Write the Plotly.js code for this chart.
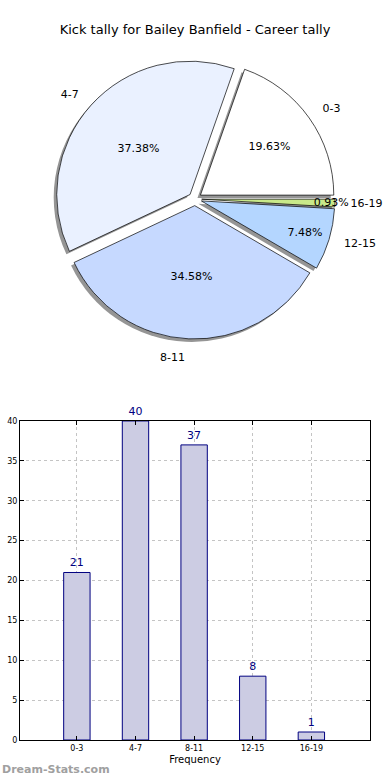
<!DOCTYPE html>
<html><head><meta charset="utf-8">
<script src="https://cdn.plot.ly/plotly-3.0.1.min.js"></script>
<style>html,body{margin:0;padding:0;background:#fff}#chart{width:390px;height:780px}</style>
</head><body><div id="chart"></div>
<script>
var categories = ["0-3", "4-7", "8-11", "12-15", "16-19"];
var counts = [21, 40, 37, 8, 1];
var sliceColors = ["#ffffff", "#eaf1ff", "#c6d9ff", "#b4d6ff", "#c9e98a"];
var yTicks = [0, 5, 10, 15, 20, 25, 30, 35, 40];
var xPos = categories.map(function(c, i){ return i; });

var total = counts.reduce(function(a, b){ return a + b; }, 0);
// first slice starts at 3 o'clock, going counterclockwise
var rot = 90 - 360 * counts[0] / total;
var pull = categories.map(function(){ return 0.05; });
var fnt = {family: "DejaVu Sans", size: 11, color: "#000"};

var labelRing = {
  type: "pie", labels: categories, values: counts, sort: false,
  direction: "counterclockwise", rotation: rot, pull: pull,
  marker: {colors: categories.map(function(){ return "rgba(0,0,0,0)"; }), line: {width: 0}},
  textinfo: "label", textposition: "outside", outsidetextfont: fnt,
  domain: {x: [0, 1], y: [0.5497, 0.9401]},
  showlegend: false, hoverinfo: "skip"
};
var shadow = {
  type: "pie", labels: categories, values: counts, sort: false,
  direction: "counterclockwise", rotation: rot, pull: pull,
  marker: {colors: categories.map(function(){ return "#8a8a8a"; }), line: {width: 0}},
  textinfo: "none",
  domain: {x: [0.0123, 0.9723], y: [0.5616, 0.9206]},
  showlegend: false, hoverinfo: "skip", opacity: 0.9
};
var pie = {
  type: "pie", labels: categories, values: counts, sort: false,
  direction: "counterclockwise", rotation: rot, pull: pull,
  marker: {colors: sliceColors, line: {color: "#000", width: 0.7}},
  texttemplate: "%{percent:.2%}", textposition: "inside",
  insidetextorientation: "horizontal", insidetextfont: fnt,
  domain: {x: [0.02, 0.98], y: [0.5654, 0.9244]},
  showlegend: false
};
var bars = {
  type: "bar", x: xPos, y: counts, width: 0.45,
  marker: {color: "#cccce3", line: {color: "#000080", width: 1}},
  text: counts.map(String), textposition: "outside",
  textfont: {family: "DejaVu Sans", size: 11, color: "#000080"},
  cliponaxis: false, xaxis: "x", yaxis: "y", showlegend: false
};

var layout = {
  width: 390, height: 780,
  margin: {l: 0, r: 0, t: 0, b: 0},
  paper_bgcolor: "#fff", plot_bgcolor: "#fff",
  uniformtext: {mode: "show", minsize: 11},
  title: {text: "Kick tally for Bailey Banfield - Career tally",
          font: {family: "DejaVu Sans", size: 13, color: "#000"},
          x: 0.5, xanchor: "center", y: 0.962, yanchor: "middle"},
  xaxis: {domain: [0.0513, 0.9487], anchor: "y", range: [-0.97, 5],
          tickvals: xPos, ticktext: categories,
          tickfont: {family: "DejaVu Sans", size: 8, color: "#000"},
          showgrid: true, gridcolor: "#c4c4c4", griddash: "dot", gridwidth: 1,
          showline: true, linecolor: "#000", linewidth: 1, mirror: "ticks",
          ticks: "inside", ticklen: 4, tickcolor: "#000", zeroline: false,
          title: {text: "Frequency", font: {family: "DejaVu Sans", size: 10, color: "#000"}, standoff: 4}},
  yaxis: {domain: [0.0513, 0.4603], anchor: "x", range: [0, 40],
          tickvals: yTicks,
          tickfont: {family: "DejaVu Sans", size: 8, color: "#000"},
          showgrid: true, gridcolor: "#c4c4c4", griddash: "dot", gridwidth: 1,
          showline: true, linecolor: "#000", linewidth: 1, mirror: "ticks",
          ticks: "inside", ticklen: 4, tickcolor: "#000", zeroline: false},
  annotations: [{text: "<b>Dream-Stats.com</b>", xref: "paper", yref: "paper",
    x: 0, y: 0.003, xanchor: "left", yanchor: "bottom", showarrow: false,
    font: {family: "DejaVu Sans", size: 11, color: "#a0a0a0"}}]
};
Plotly.newPlot("chart", [labelRing, shadow, pie, bars], layout, {displayModeBar: false, staticPlot: true});
</script></body></html>
